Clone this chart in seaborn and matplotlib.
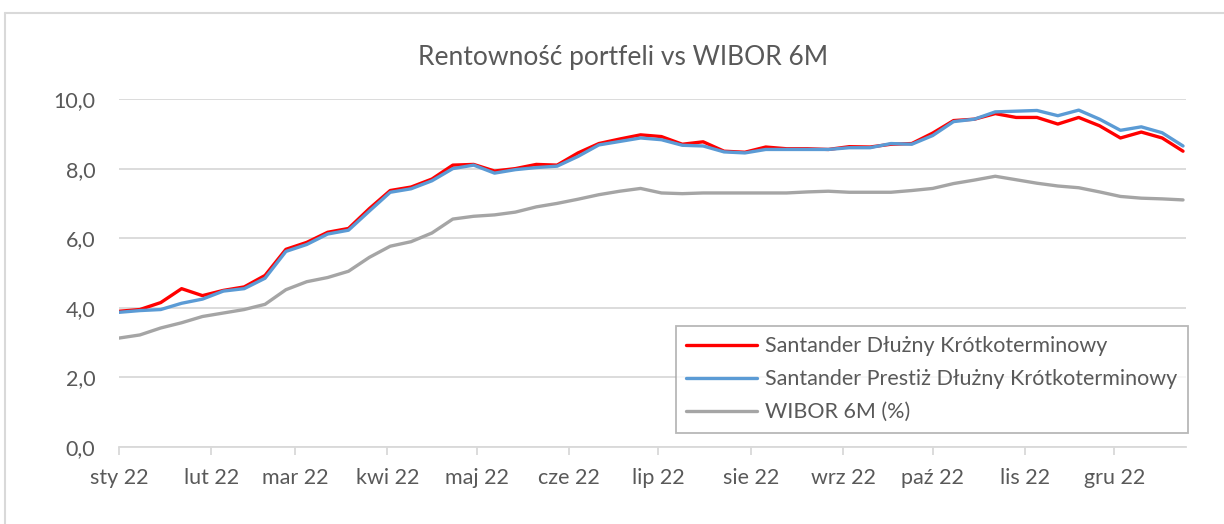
import matplotlib
matplotlib.use("Agg")
import matplotlib.pyplot as plt
from matplotlib.lines import Line2D
import seaborn as sns
import pandas as pd
import numpy as np

sns.set_theme(style="white")
plt.rcParams['font.family'] = ['Lato', 'DejaVu Sans']

title = "Rentowność portfeli vs WIBOR 6M"
series_names = ["Santander Dłużny Krótkoterminowy",
                "Santander Prestiż Dłużny Krótkoterminowy",
                "WIBOR 6M (%)"]
colors = ["#ff0000", "#5b9bd5", "#a5a5a5"]
month_labels = ["sty 22", "lut 22", "mar 22", "kwi 22", "maj 22", "cze 22",
                "lip 22", "sie 22", "wrz 22", "paź 22", "lis 22", "gru 22"]
dates = pd.date_range("2022-01-01", periods=52, freq="7D")

dluzny = [3.90, 3.95, 4.15, 4.55, 4.35, 4.50, 4.60, 4.93, 5.68, 5.88,
          6.17, 6.28, 6.85, 7.37, 7.47, 7.70, 8.10, 8.12, 7.93, 8.00,
          8.12, 8.10, 8.45, 8.72, 8.85, 8.97, 8.92, 8.70, 8.77, 8.50,
          8.47, 8.62, 8.57, 8.57, 8.55, 8.63, 8.62, 8.70, 8.72, 9.02,
          9.38, 9.42, 9.58, 9.47, 9.47, 9.28, 9.47, 9.23, 8.88, 9.05,
          8.88, 8.50]
prestiz = [3.87, 3.92, 3.95, 4.13, 4.25, 4.48, 4.55, 4.85, 5.62, 5.82,
           6.12, 6.23, 6.78, 7.32, 7.42, 7.65, 8.00, 8.10, 7.87, 7.97,
           8.03, 8.07, 8.35, 8.68, 8.78, 8.88, 8.83, 8.67, 8.65, 8.48,
           8.45, 8.55, 8.55, 8.55, 8.55, 8.60, 8.60, 8.72, 8.70, 8.95,
           9.35, 9.42, 9.63, 9.65, 9.67, 9.52, 9.68, 9.42, 9.10, 9.20,
           9.03, 8.65]
wibor = [3.13, 3.22, 3.42, 3.57, 3.75, 3.85, 3.95, 4.10, 4.52, 4.75,
         4.87, 5.05, 5.45, 5.77, 5.90, 6.15, 6.55, 6.63, 6.67, 6.75,
         6.90, 7.00, 7.12, 7.25, 7.35, 7.43, 7.30, 7.28, 7.30, 7.30,
         7.30, 7.30, 7.30, 7.33, 7.35, 7.32, 7.32, 7.32, 7.37, 7.43,
         7.57, 7.67, 7.78, 7.68, 7.58, 7.50, 7.45, 7.33, 7.20, 7.15,
         7.13, 7.10]

df = pd.DataFrame({"data": list(dates) * 3,
                   "wartosc": dluzny + prestiz + wibor,
                   "seria": [series_names[0]] * 52 + [series_names[1]] * 52 + [series_names[2]] * 52})

fig = plt.figure(figsize=(12.24, 5.24), dpi=100)
ax = fig.add_axes([119 / 1224, 1 - 447 / 524, (1186 - 119) / 1224, (447 - 99) / 524])

sns.lineplot(data=df, x="data", y="wartosc", hue="seria", hue_order=series_names,
             palette=colors, linewidth=2.4, ax=ax, legend=False)

ax.set_ylim(0, 10)
ax.set_xlim(pd.Timestamp("2022-01-01"), pd.Timestamp("2022-12-25"))
ax.set_yticks(np.arange(0, 10.01, 2))
ax.set_yticklabels([f"{v:.1f}".replace(".", ",") for v in np.arange(0, 10.01, 2)])
month_starts = pd.date_range("2022-01-01", periods=12, freq="MS")
ax.set_xticks(month_starts)
ax.set_xticklabels(month_labels)
ax.set_xlabel("")
ax.set_ylabel("")

ax.grid(axis="y", color="#d9d9d9", linewidth=1.3)
ax.set_axisbelow(True)
for s in ["top", "right", "left"]:
    ax.spines[s].set_visible(False)
ax.spines["bottom"].set_color("#d9d9d9")
ax.spines["bottom"].set_linewidth(1.3)
ax.tick_params(axis="x", colors="#595959", labelsize=15.5, length=6, width=1.3,
               direction="out", bottom=True, pad=9)
ax.tick_params(axis="x", color="#d9d9d9")
ax.tick_params(axis="y", colors="#595959", labelsize=15.5, length=0, pad=17)

handles = [Line2D([0], [0], color=c, linewidth=2.4) for c in colors]
leg = ax.legend(handles, series_names, loc="lower right",
                bbox_to_anchor=((1188 - 119) / (1186 - 119), (447 - 433) / 348),
                frameon=True, fancybox=False, fontsize=15.5, handlelength=3.3,
                handletextpad=0.35, labelspacing=0.6, borderpad=0.5, borderaxespad=0)
leg.get_frame().set_edgecolor("#a6a6a6")
leg.get_frame().set_linewidth(1.3)
for t in leg.get_texts():
    t.set_color("#595959")

fig.text(0.509, 1 - 58 / 524, title, ha="center", va="center", fontsize=19, color="#595959")

# chart-area border
fig.add_artist(Line2D([5 / 1224, 1], [1 - 13 / 524, 1 - 13 / 524], transform=fig.transFigure,
                      color="#d9d9d9", linewidth=1.5))
fig.add_artist(Line2D([5 / 1224, 5 / 1224], [0, 1 - 13 / 524], transform=fig.transFigure,
                      color="#d9d9d9", linewidth=1.5))

fig.savefig("out.png", dpi=100)
